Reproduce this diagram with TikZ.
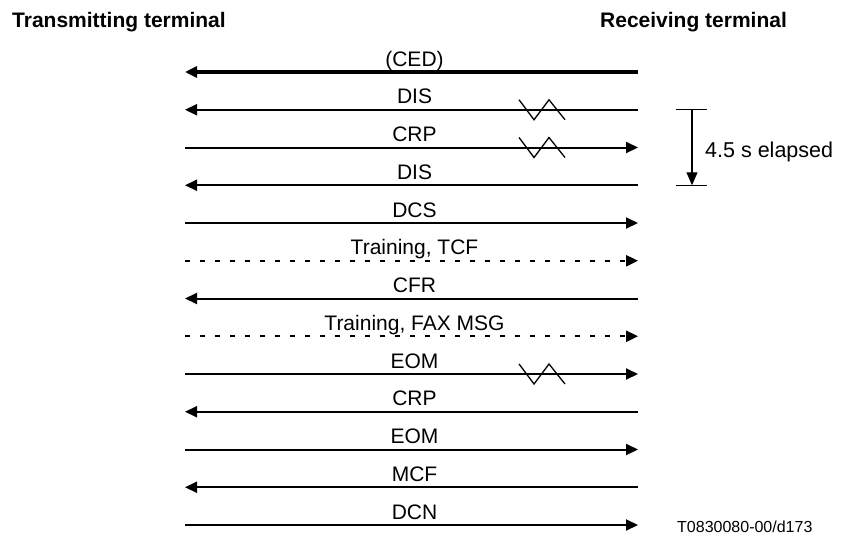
\documentclass[tikz,border=0pt]{standalone}
\usepackage{fontspec}
\setmainfont{Liberation Sans}
\usetikzlibrary{arrows.meta}

\begin{document}
\begin{tikzpicture}[x=1pt,y=-1pt,
    msg/.style={line width=2pt,-{Triangle[length=12pt,width=11pt]}},
    train/.style={msg,line width=2.4pt,dash pattern=on 5pt off 10pt},
    lbl/.style={midway,anchor=base,yshift=6pt,xshift=3pt,font=\fontsize{21}{25}\selectfont},
    zig/.style={line width=1.3pt},
    timer/.style={line width=1.3pt}]
    \useasboundingbox (0,0) rectangle (846,536);

    % Terminals
    \node[anchor=base west,inner sep=0pt,font=\fontsize{21}{25}\selectfont\bfseries] (tx) at (12,27) {Transmitting terminal};
    \node[anchor=base west,inner sep=0pt,font=\fontsize{21}{25}\selectfont\bfseries] (rx) at (600,27) {Receiving terminal};

    % End points of the messages
    \foreach \i in {1,...,13} {
        \coordinate (L\i) at (185,72+37.75*\i-37.75);
        \coordinate (R\i) at (638,72+37.75*\i-37.75);
    }

    % Messages
    \draw[msg,line width=3.6pt] (R1) -- (L1) node[lbl] (ced) {(CED)};
    \draw[msg] (R2) -- (L2) node[lbl] (dis1) {DIS};
    \draw[msg] (L3) -- (R3) node[lbl] (crp1) {CRP};
    \draw[msg] (R4) -- (L4) node[lbl] (dis2) {DIS};
    \draw[msg] (L5) -- (R5) node[lbl] (dcs) {DCS};
    \draw[train] (L6) -- (R6) node[lbl] (tcf) {Training, TCF};
    \draw[msg] (R7) -- (L7) node[lbl] (cfr) {CFR};
    \draw[train] (L8) -- (R8) node[lbl] (faxmsg) {Training, FAX MSG};
    \draw[msg] (L9) -- (R9) node[lbl] (eom1) {EOM};
    \draw[msg] (R10) -- (L10) node[lbl] (crp2) {CRP};
    \draw[msg] (L11) -- (R11) node[lbl] (eom2) {EOM};
    \draw[msg] (R12) -- (L12) node[lbl] (mcf) {MCF};
    \draw[msg] (L13) -- (R13) node[lbl] (dcn) {DCN};

    % Lost messages
    \foreach \i in {2,3,9}
        \draw[zig] ([xshift=-119pt,yshift=10pt]R\i) -- ++(15,20) -- ++(15,-20) -- ++(16,20);

    % Timeout
    \coordinate (ttop) at (692,109.75);
    \coordinate (tbot) at (692,185.25);
    \draw[timer] ([xshift=-16pt]ttop) -- ([xshift=15pt]ttop);
    \draw[timer] ([xshift=-16pt]tbot) -- ([xshift=15pt]tbot);
    \draw[timer,-{Triangle[length=13pt,width=11pt]}] (ttop) -- (tbot);
    \node[anchor=base west,inner sep=0pt,font=\fontsize{21.5}{25}\selectfont] (elapsed) at (705,157) {4.5 s elapsed};

    \node[anchor=base west,inner sep=0pt,font=\fontsize{16}{19}\selectfont] (ref) at (677,532) {T0830080-00/d173};
\end{tikzpicture}
\end{document}
